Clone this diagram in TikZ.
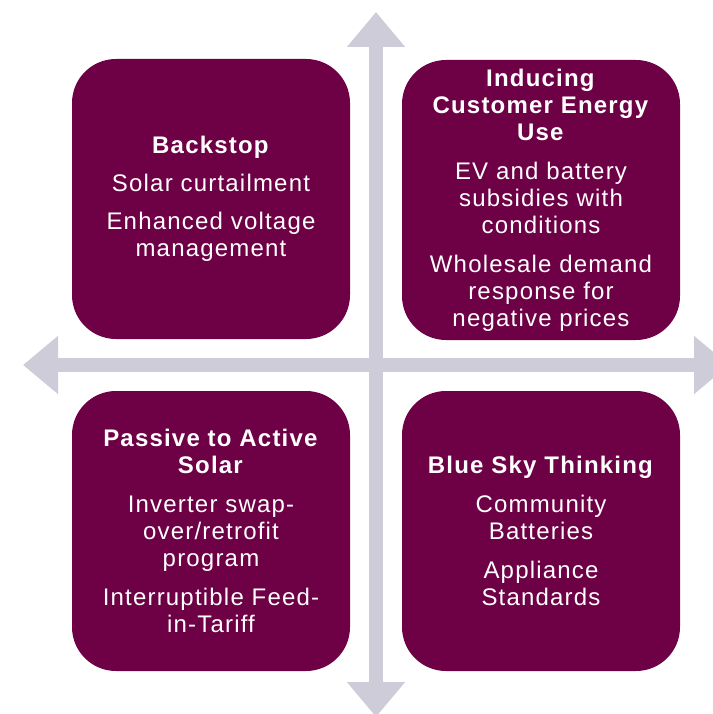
\documentclass[tikz,border=0pt]{standalone}
\usepackage{fontspec}
\setmainfont[LetterSpace=5.0]{Liberation Sans}
\usetikzlibrary{arrows.meta}
\definecolor{plum}{RGB}{110,0,70}
\definecolor{axisgrey}{RGB}{207,204,218}
\begin{document}
\begin{tikzpicture}[x=1pt,y=-1pt,
  quadrant/.style={fill=plum, draw=none, rounded corners=44pt,
    minimum width=278pt, minimum height=280pt, inner sep=0pt,
    text=white, align=center,
    font=\fontsize{24}{27}\selectfont},
  axis/.style={draw=axisgrey, line width=14pt,
    {Triangle[length=35pt,width=56pt]}-{Triangle[length=35pt,width=56pt]}}]
\useasboundingbox (0,0) rectangle (712,714);

% axes
\coordinate (ntip) at (376,12);
\coordinate (stip) at (376,717);
\coordinate (wtip) at (23,365);
\coordinate (etip) at (729,365);
\draw[axis] (ntip) -- (stip);
\draw[axis] (wtip) -- (etip);

% quadrants
\node[quadrant] (backstop) at (211,199)
  {\textbf{Backstop}\\[11pt]
   Solar curtailment\\[11pt]
   Enhanced voltage\\ management};
\node[quadrant] (inducing) at (541,200)
  {\textbf{Inducing}\\ \textbf{Customer Energy}\\ \textbf{Use}\\[12pt]
   EV and battery\\ subsidies with\\ conditions\\[12pt]
   Wholesale demand\\ response for\\ negative prices};
\node[quadrant] (passive) at (211,531)
  {\textbf{Passive to Active}\\ \textbf{Solar}\\[12pt]
   Inverter swap-\\ over/retrofit\\ program\\[12pt]
   Interruptible Feed-\\ in-Tariff};
\node[quadrant] (bluesky) at (541,531)
  {\textbf{Blue Sky Thinking}\\[12pt]
   Community\\ Batteries\\[12pt]
   Appliance\\ Standards};
\end{tikzpicture}
\end{document}
